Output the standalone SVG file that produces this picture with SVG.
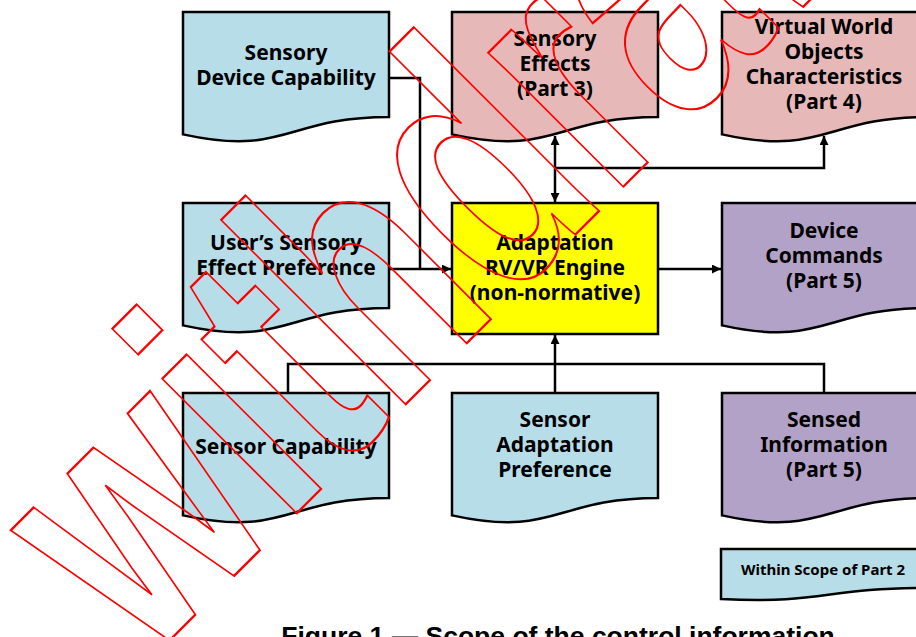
<svg xmlns="http://www.w3.org/2000/svg" width="916" height="637" viewBox="0 0 916 637">
<defs>
<style>
.doc{stroke:#000;stroke-width:2.5;stroke-linejoin:miter}
.blue{fill:#B7DDE8}
.pink{fill:#E6B9B8}
.purple{fill:#B3A2C7}
.yellow{fill:#FFFF00}
.t{font-family:"Noto Sans","Liberation Sans",sans-serif;font-weight:bold;font-size:21px;fill:#000;text-anchor:middle}
.conn{fill:none;stroke:#000;stroke-width:2.5}
.wm{font-family:"Liberation Sans",Arial,sans-serif;font-weight:bold;font-size:360px;fill:none;stroke:#FF0000;stroke-width:2}
</style>
<marker id="ah" viewBox="0 0 10 10" refX="10" refY="5" markerWidth="10" markerHeight="9" markerUnits="userSpaceOnUse" orient="auto-start-reverse">
<path d="M0,0 L10,5 L0,10 Z" fill="#000"/>
</marker>
<path id="docshape" d="M0,0 H206 V105 C103,105 103,145 0,122.4 Z"/>
</defs>
<rect width="916" height="637" fill="#fff"/>

<g id="connectors">
<path class="conn" d="M389,78 H420 V269"/>
<path class="conn" d="M389,269 H451" marker-end="url(#ah)"/>
<path class="conn" d="M658,269 H721" marker-end="url(#ah)"/>
<path class="conn" d="M555,202 V136" marker-start="url(#ah)" marker-end="url(#ah)"/>
<path class="conn" d="M555,168 H824 V136" marker-end="url(#ah)"/>
<path class="conn" d="M288,393 V364 H824 V393"/>
<path class="conn" d="M555,393 V335" marker-end="url(#ah)"/>
</g>

<g id="sensory-device-capability">
<use href="#docshape" class="doc blue" x="183" y="12"/>
<text class="t" x="286" y="60">Sensory</text>
<text class="t" x="286" y="85">Device Capability</text>
</g>

<g id="sensory-effects">
<use href="#docshape" class="doc pink" x="452" y="12"/>
<text class="t" x="555" y="46">Sensory</text>
<text class="t" x="555" y="71">Effects</text>
<text class="t" x="555" y="96">(Part 3)</text>
</g>

<g id="virtual-world">
<use href="#docshape" class="doc pink" x="722" y="12"/>
<text class="t" x="824" y="34">Virtual World</text>
<text class="t" x="824" y="59">Objects</text>
<text class="t" x="824" y="84">Characteristics</text>
<text class="t" x="824" y="109">(Part 4)</text>
</g>

<g id="user-preference">
<use href="#docshape" class="doc blue" x="183" y="203"/>
<text class="t" x="286" y="250">User’s Sensory</text>
<text class="t" x="286" y="275">Effect Preference</text>
</g>

<g id="adaptation-engine">
<rect x="452" y="203" width="206" height="131" class="doc yellow"/>
<text class="t" x="555" y="250">Adaptation</text>
<text class="t" x="555" y="275">RV/VR Engine</text>
<text class="t" x="555" y="300">(non-normative)</text>
</g>

<g id="device-commands">
<use href="#docshape" class="doc purple" x="722" y="203"/>
<text class="t" x="824" y="238">Device</text>
<text class="t" x="824" y="263">Commands</text>
<text class="t" x="824" y="288">(Part 5)</text>
</g>

<g id="sensor-capability">
<use href="#docshape" class="doc blue" x="183" y="393"/>
<text class="t" x="286" y="454">Sensor Capability</text>
</g>

<g id="sensor-adaptation-preference">
<use href="#docshape" class="doc blue" x="452" y="393"/>
<text class="t" x="555" y="427">Sensor</text>
<text class="t" x="555" y="452">Adaptation</text>
<text class="t" x="555" y="477">Preference</text>
</g>

<g id="sensed-information">
<use href="#docshape" class="doc purple" x="722" y="393"/>
<text class="t" x="824" y="427">Sensed</text>
<text class="t" x="824" y="452">Information</text>
<text class="t" x="824" y="477">(Part 5)</text>
</g>

<g id="legend">
<path class="doc blue" d="M721,549 H927 V588 C824,588 824,604 721,599 Z"/>
<text class="t" x="823" y="575" style="font-size:15px">Within Scope of Part 2</text>
</g>

<text x="558" y="645" text-anchor="middle" font-family="Liberation Sans, Arial, sans-serif" font-weight="bold" font-size="26.5">Figure 1 — Scope of the control information</text>

<text class="wm" transform="translate(145.7,664.3) rotate(-45) scale(0.70,1)" vector-effect="non-scaling-stroke">withdrawn</text>
</svg>
